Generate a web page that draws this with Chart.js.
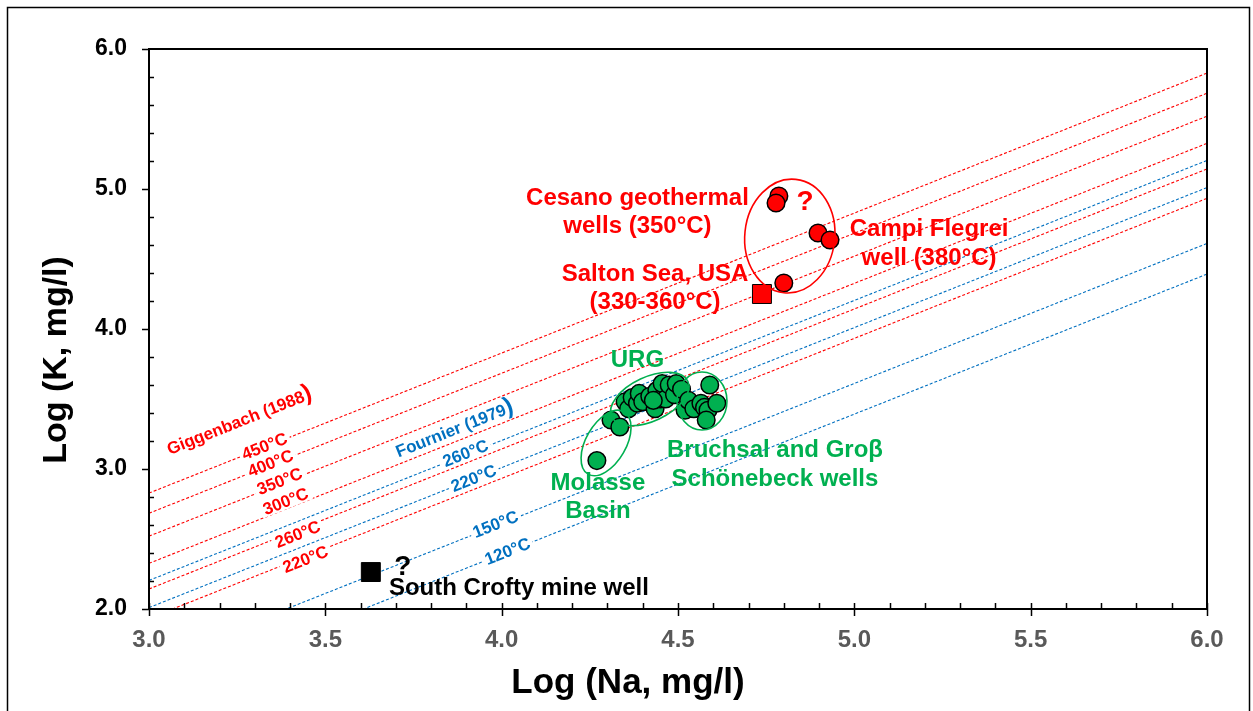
<!DOCTYPE html>
<html>
<head>
<meta charset="utf-8">
<script src="https://cdn.jsdelivr.net/npm/chart.js@4.4.0/dist/chart.umd.min.js"></script>
<style>
html, body { margin: 0; padding: 0; background: #fff; }
</style>
</head>
<body>
<canvas id="geo" width="1253" height="711"></canvas>
<script>
// axis ticks
var naTicks = [3.0, 3.5, 4.0, 4.5, 5.0, 5.5, 6.0];
var kTicks = [2.0, 3.0, 4.0, 5.0, 6.0];

// geothermometer lines: log K = log Na + offset
var gigTemps = ['450°C', '400°C', '350°C', '300°C', '260°C', '220°C'];
var gigOffsets = [-0.172, -0.316, -0.480, -0.674, -0.857, -1.067];
var gigLabelNa = [3.326, 3.343, 3.369, 3.386, 3.420, 3.442];
var gigLabelK = [3.171, 3.050, 2.921, 2.779, 2.543, 2.364];

var fourTemps = ['260°C', '220°C', '150°C', '120°C'];
var fourOffsets = [-0.796, -0.990, -1.389, -1.608];
var fourLabelNa = [3.896, 3.919, 3.981, 4.015];
var fourLabelK = [3.121, 2.943, 2.614, 2.421];

// samples
var greenNa = [4.27, 4.31, 4.335,
  4.35, 4.36, 4.37, 4.385, 4.39, 4.40, 4.42, 4.435, 4.44, 4.45, 4.455, 4.465, 4.475, 4.49, 4.495, 4.51, 4.43,
  4.52, 4.53, 4.545, 4.565, 4.575, 4.585, 4.58, 4.59, 4.61];
var greenK = [3.06, 3.35, 3.30,
  3.48, 3.43, 3.51, 3.47, 3.54, 3.48, 3.52, 3.43, 3.56, 3.50, 3.61, 3.50, 3.60, 3.53, 3.61, 3.57, 3.49,
  3.42, 3.49, 3.43, 3.47, 3.44, 3.42, 3.35, 3.60, 3.47];
var redNa = [4.786, 4.778, 4.897, 4.931, 4.800];
var redK = [4.95, 4.90, 4.686, 4.636, 4.329];
var saltonNa = [4.738];
var saltonK = [4.25];
var croftyNa = [3.629];
var croftyK = [2.264];

// rings round the groups
var ringNa = [4.817, 4.420, 4.568, 4.296];
var ringK = [4.664, 3.500, 3.486, 3.186];

// notes
var noteText = ['Cesano geothermal', 'wells (350°C)', 'Salton Sea, USA', '(330-360°C)', 'Campi Flegrei', 'well (380°C)',
  'URG', 'Bruchsal and Groβ', 'Schönebeck wells', 'Molasse', 'Basin', 'South Crofty mine well', '?', '?'];
var noteNa = [4.385, 4.385, 4.435, 4.435, 5.212, 5.212, 4.385, 4.775, 4.775, 4.273, 4.273, 4.049, 4.860, 3.720];
var noteK = [4.886, 4.686, 4.343, 4.143, 4.661, 4.454, 3.729, 3.086, 2.879, 2.850, 2.650, 2.100, 4.850, 2.243];

var RED = '#ff0000', BLUE = '#0070c0', GREEN = '#00b050';
var noteColor = [RED, RED, RED, RED, RED, RED, GREEN, GREEN, GREEN, GREEN, GREEN, '#000', RED, '#000'];
var noteSize = [24, 24, 24, 24, 24, 24, 24, 24, 24, 24, 24, 24, 28, 28];
var FONT = '"Liberation Sans", Arial, sans-serif';

function pts(xs, ys) {
  return xs.map(function(v, i) { return {x: v, y: ys[i]}; });
}

var datasets = [];
datasets.push({ label: 'green', data: pts(greenNa, greenK), backgroundColor: GREEN, borderColor: '#000',
  borderWidth: 1.5, pointRadius: 8.8, order: 0 });
datasets.push({ label: 'red', data: pts(redNa, redK), backgroundColor: RED, borderColor: '#000',
  borderWidth: 1.5, pointRadius: 8.8, order: 0 });
datasets.push({ label: 'salton', data: pts(saltonNa, saltonK), backgroundColor: RED, borderColor: '#000',
  borderWidth: 1, pointStyle: 'rect', pointRadius: 13.4, order: 0 });
datasets.push({ label: 'crofty', data: pts(croftyNa, croftyK), backgroundColor: '#000', borderColor: '#000',
  borderWidth: 1, pointStyle: 'rect', pointRadius: 13.4, order: 0 });

gigOffsets.forEach(function(c, i) {
  datasets.push({ label: 'G ' + gigTemps[i], data: [{x: 3, y: 3 + c}, {x: 6, y: 6 + c}], showLine: true,
    borderColor: RED, borderWidth: 1.1, borderDash: [3, 2], pointRadius: 0, order: 2 });
});
fourOffsets.forEach(function(c, i) {
  datasets.push({ label: 'F ' + fourTemps[i], data: [{x: 3, y: 3 + c}, {x: 6, y: 6 + c}], showLine: true,
    borderColor: BLUE, borderWidth: 1.1, borderDash: [3, 2], pointRadius: 0, order: 2 });
});

var decor = {
  id: 'decor',
  afterDatasetsDraw: function(chart) {
    var ctx = chart.ctx, x = chart.scales.x, y = chart.scales.y;
    var ang = Math.atan2(y.getPixelForValue(3) - y.getPixelForValue(2), x.getPixelForValue(4) - x.getPixelForValue(3));

    // rings
    var rx = [45, 42, 25, 36], ry = [57, 22, 29, 20], rot = [6, -25, 0, -60];
    var rc = [RED, GREEN, GREEN, GREEN];
    ctx.save();
    ctx.lineWidth = 1.6;
    ringNa.forEach(function(v, i) {
      ctx.beginPath();
      ctx.strokeStyle = rc[i];
      ctx.ellipse(x.getPixelForValue(v), y.getPixelForValue(ringK[i]), rx[i], ry[i], rot[i] * Math.PI / 180, 0, Math.PI * 2);
      ctx.stroke();
    });
    ctx.restore();

    // labels along the lines, tail is drawn a size larger (as in the source figure)
    function slanted(text, na, k, color, tail) {
      ctx.save();
      ctx.translate(x.getPixelForValue(na), y.getPixelForValue(k));
      ctx.rotate(ang);
      ctx.font = 'bold 17px ' + FONT;
      var w = ctx.measureText(text).width;
      var tw = 0;
      if (tail) {
        ctx.font = 'bold 24px ' + FONT;
        tw = ctx.measureText(tail).width;
      }
      var total = w + tw;
      ctx.fillStyle = '#fff';
      ctx.fillRect(-total / 2 - 3, -9, total + 6, 18);
      ctx.fillStyle = color;
      ctx.textAlign = 'left';
      ctx.textBaseline = 'alphabetic';
      ctx.font = 'bold 17px ' + FONT;
      ctx.fillText(text, -total / 2, 7);
      if (tail) {
        ctx.font = 'bold 24px ' + FONT;
        ctx.fillText(tail, -total / 2 + w, 7);
      }
      ctx.restore();
    }
    slanted('Giggenbach (1988', 3.255, 3.35, RED, ')');
    slanted('Fournier (1979', 3.865, 3.293, BLUE, ')');
    gigTemps.forEach(function(t, i) { slanted(t, gigLabelNa[i], gigLabelK[i], RED); });
    fourTemps.forEach(function(t, i) { slanted(t, fourLabelNa[i], fourLabelK[i], BLUE); });

    // notes
    ctx.save();
    ctx.textAlign = 'center';
    ctx.textBaseline = 'alphabetic';
    noteText.forEach(function(t, i) {
      ctx.font = 'bold ' + noteSize[i] + 'px ' + FONT;
      ctx.fillStyle = noteColor[i];
      ctx.fillText(t, x.getPixelForValue(noteNa[i]), y.getPixelForValue(noteK[i]));
    });
    ctx.restore();
  },
  afterDraw: function(chart) {
    var ctx = chart.ctx, a = chart.chartArea, x = chart.scales.x, y = chart.scales.y;
    ctx.save();
    // outer frame
    ctx.strokeStyle = '#000';
    ctx.lineWidth = 1.5;
    ctx.strokeRect(7.5, 7.5, 1242, 720);
    // plot box
    ctx.lineWidth = 2;
    ctx.strokeRect(a.left, a.top, a.right - a.left, a.bottom - a.top);
    // ticks
    ctx.lineWidth = 1.5;
    ctx.beginPath();
    for (var i = 0; i <= 30; i++) {
      var px = Math.round(x.getPixelForValue(3 + i / 10)) + 0.5;
      ctx.moveTo(px, a.bottom - 6);
      ctx.lineTo(px, i % 5 === 0 ? a.bottom + 7 : a.bottom);
    }
    for (var j = 0; j <= 20; j++) {
      var py = Math.round(y.getPixelForValue(2 + j / 5)) + 0.5;
      if (j % 5 === 0) { ctx.moveTo(a.left - 7, py); ctx.lineTo(a.left, py); }
      else { ctx.moveTo(a.left, py); ctx.lineTo(a.left + 5, py); }
    }
    ctx.stroke();
    // axis titles
    ctx.fillStyle = '#000';
    ctx.textAlign = 'center';
    ctx.textBaseline = 'alphabetic';
    ctx.font = 'bold 35px ' + FONT;
    ctx.fillText('Log (Na, mg/l)', 628, 693);
    ctx.translate(66, 360);
    ctx.rotate(-Math.PI / 2);
    ctx.font = 'bold 34px ' + FONT;
    ctx.fillText('Log (K, mg/l)', 0, 0);
    ctx.restore();
  }
};

new Chart(document.getElementById('geo'), {
  type: 'scatter',
  data: { datasets: datasets },
  options: {
    responsive: false,
    animation: false,
    layout: { padding: { left: 0, top: 49, right: 46, bottom: 0 } },
    plugins: { legend: { display: false }, tooltip: { enabled: false } },
    scales: {
      x: {
        type: 'linear', min: 3, max: 6,
        afterBuildTicks: function(s) { s.ticks = naTicks.map(function(v) { return {value: v}; }); },
        afterFit: function(s) { s.height = 102; },
        grid: { display: false, drawTicks: false },
        border: { display: false },
        ticks: { color: '#595959', padding: 17, font: { family: FONT, size: 24, weight: 'bold' },
          callback: function(v) { return Number(v).toFixed(1); } }
      },
      y: {
        type: 'linear', min: 2, max: 6,
        afterBuildTicks: function(s) { s.ticks = kTicks.map(function(v) { return {value: v}; }); },
        afterFit: function(s) { s.width = 149; },
        grid: { display: false, drawTicks: false },
        border: { display: false },
        ticks: { color: '#000', padding: 22, font: { family: FONT, size: 23, weight: 'bold' },
          callback: function(v) { return Number(v).toFixed(1); } }
      }
    }
  },
  plugins: [decor]
});
</script>
</body>
</html>
